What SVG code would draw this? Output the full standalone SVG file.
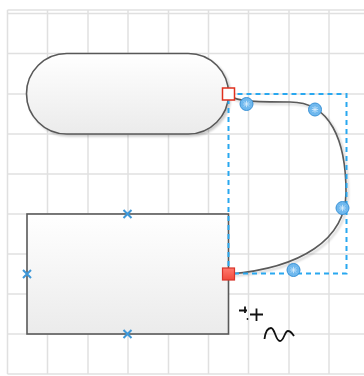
<svg xmlns="http://www.w3.org/2000/svg" width="364" height="376" viewBox="0 0 364 376">
<defs>
<linearGradient id="g" x1="0" y1="0" x2="0" y2="1"><stop offset="0" stop-color="#ffffff"/><stop offset="1" stop-color="#ebebeb"/></linearGradient>
<linearGradient id="rg" x1="0" y1="0" x2="0" y2="1"><stop offset="0" stop-color="#ff7a6e"/><stop offset="1" stop-color="#f04a3c"/></linearGradient>
<filter id="sh" x="-10%" y="-10%" width="130%" height="130%"><feGaussianBlur in="SourceAlpha" stdDeviation="1.2"/><feOffset dx="2" dy="2" result="b"/><feComponentTransfer><feFuncA type="linear" slope="0.2"/></feComponentTransfer><feMerge><feMergeNode/><feMergeNode in="SourceGraphic"/></feMerge></filter>
<g id="bc"><circle r="6.5" fill="#6fb8ee" stroke="#3a92d6" stroke-width="1"/><path d="M-2.5,-2.5L2.5,2.5M-2.5,2.5L2.5,-2.5M0,-3.2V3.2M-3.2,0H3.2" stroke="#d8ecfb" stroke-width="0.8"/></g>
<g id="xm"><path d="M-4,-4L4,4M-4,4L4,-4" stroke="#3d97d8" stroke-width="2"/></g>
</defs>
<style>
.grid line{stroke:#e0e0e0;stroke-width:1.5}
.shape{fill:url(#g);stroke:#595959;stroke-width:1.6}
.sel{fill:none;stroke:#29a8f0;stroke-width:2;stroke-dasharray:5 4}
.edge{fill:none;stroke:#5a5a5a;stroke-width:1.6}
.cur{fill:none;stroke:#111;stroke-width:1.8}
</style>
<rect width="364" height="376" fill="#ffffff"/>
<g class="grid">
<line x1="7.5" y1="10" x2="364" y2="10"/>
<line x1="7.5" y1="13.5" x2="364" y2="13.5"/>
<line x1="7.5" y1="53.5" x2="364" y2="53.5"/>
<line x1="7.5" y1="94" x2="364" y2="94"/>
<line x1="7.5" y1="134" x2="364" y2="134"/>
<line x1="7.5" y1="174" x2="364" y2="174"/>
<line x1="7.5" y1="214" x2="364" y2="214"/>
<line x1="7.5" y1="254" x2="364" y2="254"/>
<line x1="7.5" y1="294" x2="364" y2="294"/>
<line x1="7.5" y1="334" x2="364" y2="334"/>
<line x1="7.5" y1="374" x2="364" y2="374"/>
<line x1="7.5" y1="10" x2="7.5" y2="374"/>
<line x1="47.5" y1="10" x2="47.5" y2="374"/>
<line x1="88" y1="10" x2="88" y2="374"/>
<line x1="128" y1="10" x2="128" y2="374"/>
<line x1="168.5" y1="10" x2="168.5" y2="374"/>
<line x1="208.5" y1="10" x2="208.5" y2="374"/>
<line x1="248.5" y1="10" x2="248.5" y2="374"/>
<line x1="289" y1="10" x2="289" y2="374"/>
<line x1="329" y1="10" x2="329" y2="374"/>
</g>
<g id="node-top" filter="url(#sh)">
<rect class="shape" x="26.5" y="53.5" width="202" height="80.5" rx="40.25" ry="40.25"/>
</g>
<g id="node-bottom">
<rect class="shape" x="27" y="214" width="201.5" height="120"/>
<use href="#xm" x="127.5" y="214"/>
<use href="#xm" x="27" y="274"/>
<use href="#xm" x="127.5" y="334"/>
</g>
<g id="connectors">
<path class="edge" filter="url(#sh)" d="M230,96 C238,101 250,102 290,102 C330,102 346,140 346,192 C346,240 300,268 230,274"/>
<rect class="sel" x="228.5" y="94" width="118" height="179.5"/>
<use href="#bc" x="246.5" y="104"/>
<use href="#bc" x="315" y="109.5"/>
<use href="#bc" x="342.5" y="208"/>
<use href="#bc" x="293.5" y="270"/>
<rect x="222.5" y="88" width="12" height="12" fill="#ffffff" stroke="#e0301e" stroke-width="1.5"/>
<rect x="222.5" y="268" width="12" height="12" fill="url(#rg)" stroke="#d8352a" stroke-width="1.2"/>
</g>
<g id="cursor">
<path class="cur" d="M250,314.5H263M256.5,308.5V321"/>
<path class="cur" stroke-width="1.3" d="M239,310.5H247M245,306.5V313"/>
<circle cx="247.5" cy="319" r="0.9" fill="#111"/>
<path class="cur" stroke-width="1.5" d="M264.5,339 C265.5,331 268,328 271,328 C275,328 275.5,341 280,341 C284,341 284.5,331 288,331 C291,331 292.5,334 294,336"/>
</g>
</svg>
